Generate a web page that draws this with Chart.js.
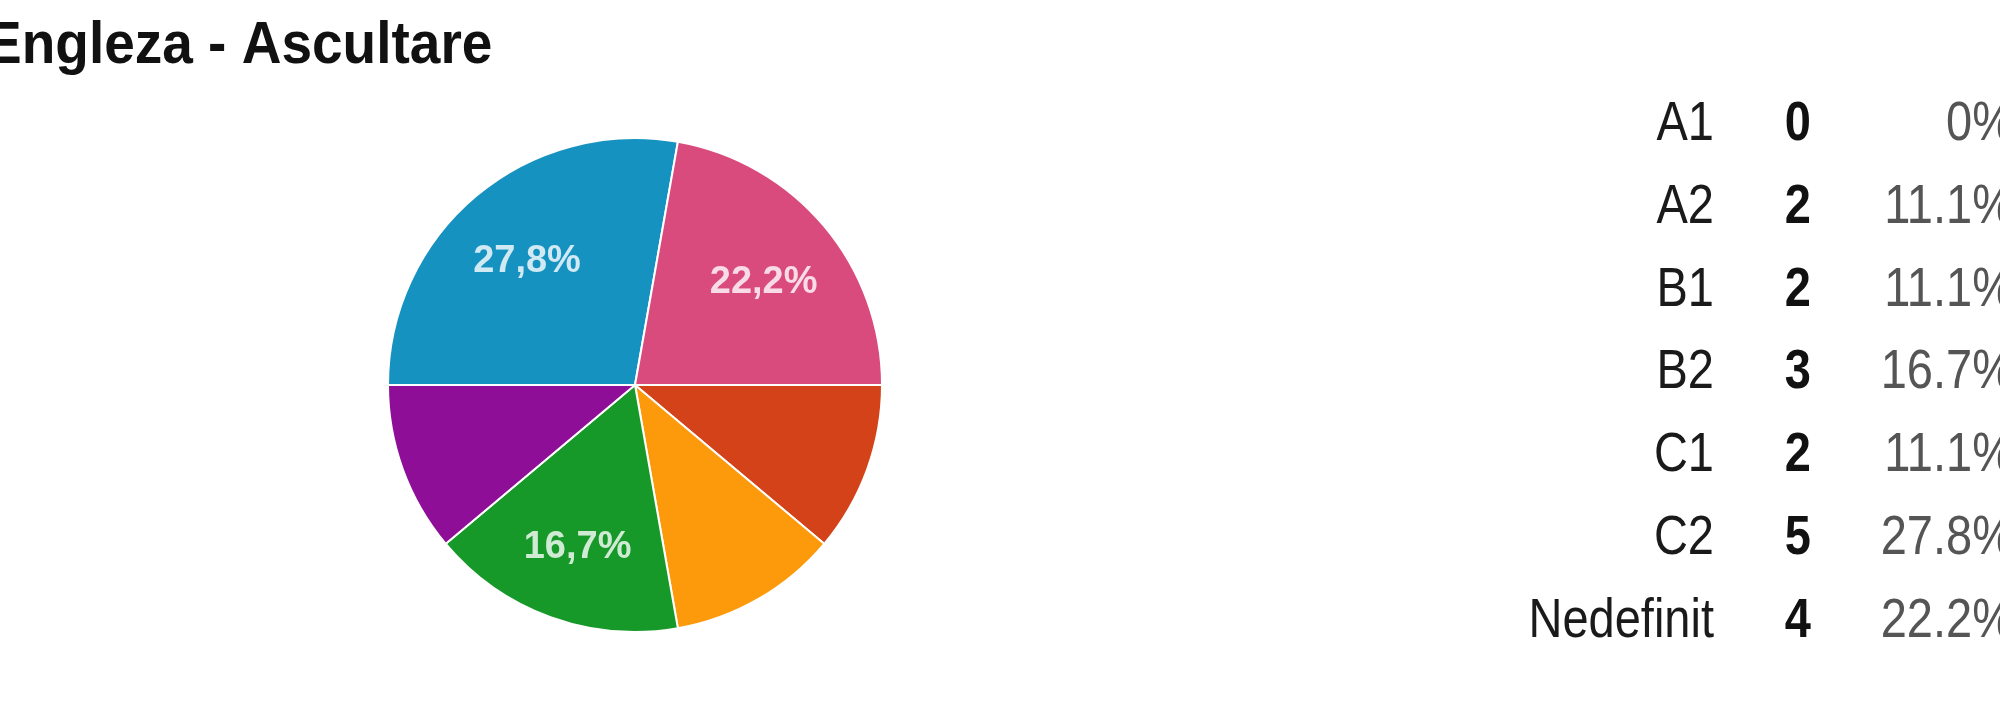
<!DOCTYPE html>
<html>
<head>
<meta charset="utf-8">
<script src="https://cdn.jsdelivr.net/npm/chart.js@4.4.1/dist/chart.umd.min.js"></script>
<style>
  html, body { margin: 0; padding: 0; background: #fff; overflow: hidden; }
  #wrap { position: relative; width: 2000px; height: 704px; }
</style>
</head>
<body>
<div id="wrap"><canvas id="pie" width="2000" height="704"></canvas></div>
<script>
// Engleza - Ascultare: one pie + the count/percent table on the right
const title = "Engleza - Ascultare";
const levels = ["A1", "A2", "B1", "B2", "C1", "C2", "Nedefinit"];
const counts = [0, 2, 2, 3, 2, 5, 4];
const colors = ["#3366cc", "#d4421a", "#fd9a0c", "#17992a", "#8e0e97", "#1692c1", "#d94b7d"];

const FONT = "'Liberation Sans', Arial, sans-serif";
const total = counts.reduce((a, b) => a + b, 0);
const pct = (v) => (v === 0 ? "0%" : (v / total * 100).toFixed(1) + "%");

// text in the screenshot is a bit stretched vertically
function tallText(ctx, txt, x, y, sy) {
  ctx.save();
  ctx.translate(x, y);
  ctx.scale(1, sy);
  ctx.fillText(txt, 0, 0);
  ctx.restore();
}

const sliceText = {
  id: "sliceText",
  afterDatasetsDraw(chart) {
    const ctx = chart.ctx, meta = chart.getDatasetMeta(0);
    meta.data.forEach((arc, i) => {
      const share = counts[i] / total;
      if (share < 0.15) return;   // small slices stay unlabelled
      const p = arc.getProps(["x", "y", "startAngle", "endAngle", "outerRadius"], true);
      const mid = (p.startAngle + p.endAngle) / 2, r = p.outerRadius * 0.68;
      ctx.save();
      ctx.font = "bold 38px " + FONT;
      ctx.fillStyle = "rgba(255,255,255,0.8)";
      ctx.textAlign = "center";
      ctx.textBaseline = "middle";
      ctx.fillText((share * 100).toFixed(1).replace(".", ",") + "%", p.x + Math.cos(mid) * r, p.y + Math.sin(mid) * r + 5);
      ctx.restore();
    });
  }
};

const sideText = {
  id: "sideText",
  afterDraw(chart) {
    const ctx = chart.ctx;
    ctx.save();
    ctx.textBaseline = "alphabetic";
    // title, clipped at the left edge like the screenshot
    ctx.font = "bold 55px " + FONT;
    ctx.fillStyle = "#111";
    ctx.textAlign = "left";
    tallText(ctx, title, -15, 63, 1.07);
    // table
    levels.forEach((lab, i) => {
      const y = 140 + i * 82.8;
      ctx.textAlign = "right";
      ctx.font = "47px " + FONT;
      ctx.fillStyle = "#1a1a1a";
      tallText(ctx, lab, 1714, y, 1.18);
      ctx.font = "bold 47px " + FONT;
      ctx.fillStyle = "#111";
      tallText(ctx, String(counts[i]), 1811, y, 1.18);
      ctx.font = "47px " + FONT;
      ctx.fillStyle = "#555";
      tallText(ctx, pct(counts[i]), 2014, y, 1.18);
    });
    ctx.restore();
  }
};

new Chart(document.getElementById("pie"), {
  type: "pie",
  data: {
    labels: levels,
    datasets: [{ data: counts, backgroundColor: colors, borderColor: "#fff", borderWidth: 2 }]
  },
  options: {
    responsive: false,
    animation: false,
    devicePixelRatio: 1,
    events: [],
    rotation: 90,
    radius: 247,
    layout: { padding: { left: 0, right: 730, top: 66, bottom: 0 } },
    plugins: { legend: { display: false }, tooltip: { enabled: false } }
  },
  plugins: [sliceText, sideText]
});
</script>
</body>
</html>
